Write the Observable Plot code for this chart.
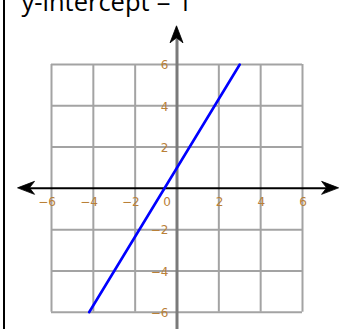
<!DOCTYPE html>
<html>
<head>
<meta charset="utf-8">
<script src="https://cdn.jsdelivr.net/npm/d3@7"></script>
<script src="https://cdn.jsdelivr.net/npm/@observablehq/plot@0.6"></script>
<style>
  html, body { margin: 0; padding: 0; background: #fff; }
  #wrap { position: relative; width: 351px; height: 329px; overflow: hidden; }
  #border { position: absolute; left: 3px; top: 0; width: 2px; height: 329px; background: #000; }
</style>
</head>
<body>
<div id="wrap"><div id="border"></div></div>
<script>
// ---- data ----
const title = "y-intercept = 1";
const gridValues = [-6, -4, -2, 2, 4, 6];
const tickValues = [-6, -4, -2, 2, 4, 6];
const tickLabels = ["−6", "−4", "−2", "2", "4", "6"];
const originLabel = "0";
// line y = (5/3)x + 1, endpoints
const lineX = [-4.2, 3];
const lineY = [-6, 6];
// axis extents (arrow tips) in data units
const xAxisExtent = [-7.6, 7.75];
const yAxisExtent = [-7.2, 7.85];

const lineData = lineX.map((x, i) => ({x, y: lineY[i]}));
const xTicks = tickValues.map((v, i) => ({v, label: tickLabels[i]}));
const yTicks = tickValues.map((v, i) => ({v, label: tickLabels[i]}));
const arrowTips = [
  {x: 0, y: yAxisExtent[1], angle: 0},
  {x: xAxisExtent[0], y: 0, angle: -90},
  {x: xAxisExtent[1], y: 0, angle: 90}
];

const labelColor = "#b98038";
const labelFont = "DejaVu Sans";
const labelSize = 12;

const chart = Plot.plot({
  width: 351,
  height: 329,
  marginLeft: 51,
  marginRight: 49,
  marginTop: 64,
  marginBottom: 17,
  x: {domain: [-6, 6], range: [51, 302], axis: null},
  y: {domain: [-6, 6], range: [311.7, 64], axis: null},
  style: {background: "transparent", overflow: "hidden"},
  marks: [
    // grid
    Plot.ruleX(gridValues, {x: d => d, y1: -6, y2: 6, stroke: "#a3a3a3", strokeWidth: 2}),
    Plot.ruleY(gridValues, {y: d => d, x1: -6, x2: 6, stroke: "#a3a3a3", strokeWidth: 2}),
    // vertical axis (gray)
    Plot.ruleX([0], {x: d => d, y1: yAxisExtent[0], y2: yAxisExtent[1] - 0.5, stroke: "#7a7a7a", strokeWidth: 3}),
    // horizontal axis (black)
    Plot.ruleY([0], {y: d => d, x1: xAxisExtent[0] + 0.4, x2: xAxisExtent[1] - 0.4, stroke: "#000", strokeWidth: 2}),
    // tick labels
    Plot.text(xTicks, {x: "v", y: () => 0, text: "label", dy: 14, dx: 4.5, textAnchor: "end", fill: labelColor, fontSize: labelSize, fontFamily: labelFont, lineAnchor: "middle"}),
    Plot.text(yTicks, {x: () => 0, y: "v", text: "label", dx: -8.5, dy: 1, textAnchor: "end", fill: labelColor, fontSize: labelSize, fontFamily: labelFont, lineAnchor: "middle"}),
    Plot.text([originLabel], {x: () => 0, y: () => 0, text: d => d, dx: -6, dy: 14, textAnchor: "end", fill: labelColor, fontSize: labelSize, fontFamily: labelFont, lineAnchor: "middle"}),
    // data line
    Plot.line(lineData, {x: "x", y: "y", stroke: "#0000ff", strokeWidth: 2.6}),
    // title
    Plot.text([title], {frameAnchor: "top-left", text: d => d, dx: -30, dy: -54, lineAnchor: "bottom", textAnchor: "start", fontSize: 25.5, fontFamily: "Open Sans", fill: "#000"})
  ]
});

// filled, notched arrowheads placed through Plot's own scales
const sx = chart.scale("x"), sy = chart.scale("y");
const head = "M0,0 L6.5,17 L0,12 L-6.5,17 Z";
d3.select(chart).append("g")
  .selectAll("path")
  .data(arrowTips)
  .join("path")
  .attr("d", head)
  .attr("fill", "#000")
  .attr("stroke", "#000")
  .attr("stroke-width", 0.8)
  .attr("stroke-linejoin", "round")
  .attr("transform", d => `translate(${sx.apply(d.x)},${sy.apply(d.y)}) rotate(${d.angle})`);

chart.style.position = "absolute";
chart.style.left = "0";
chart.style.top = "0";
document.getElementById("wrap").prepend(chart);
</script>
</body>
</html>
